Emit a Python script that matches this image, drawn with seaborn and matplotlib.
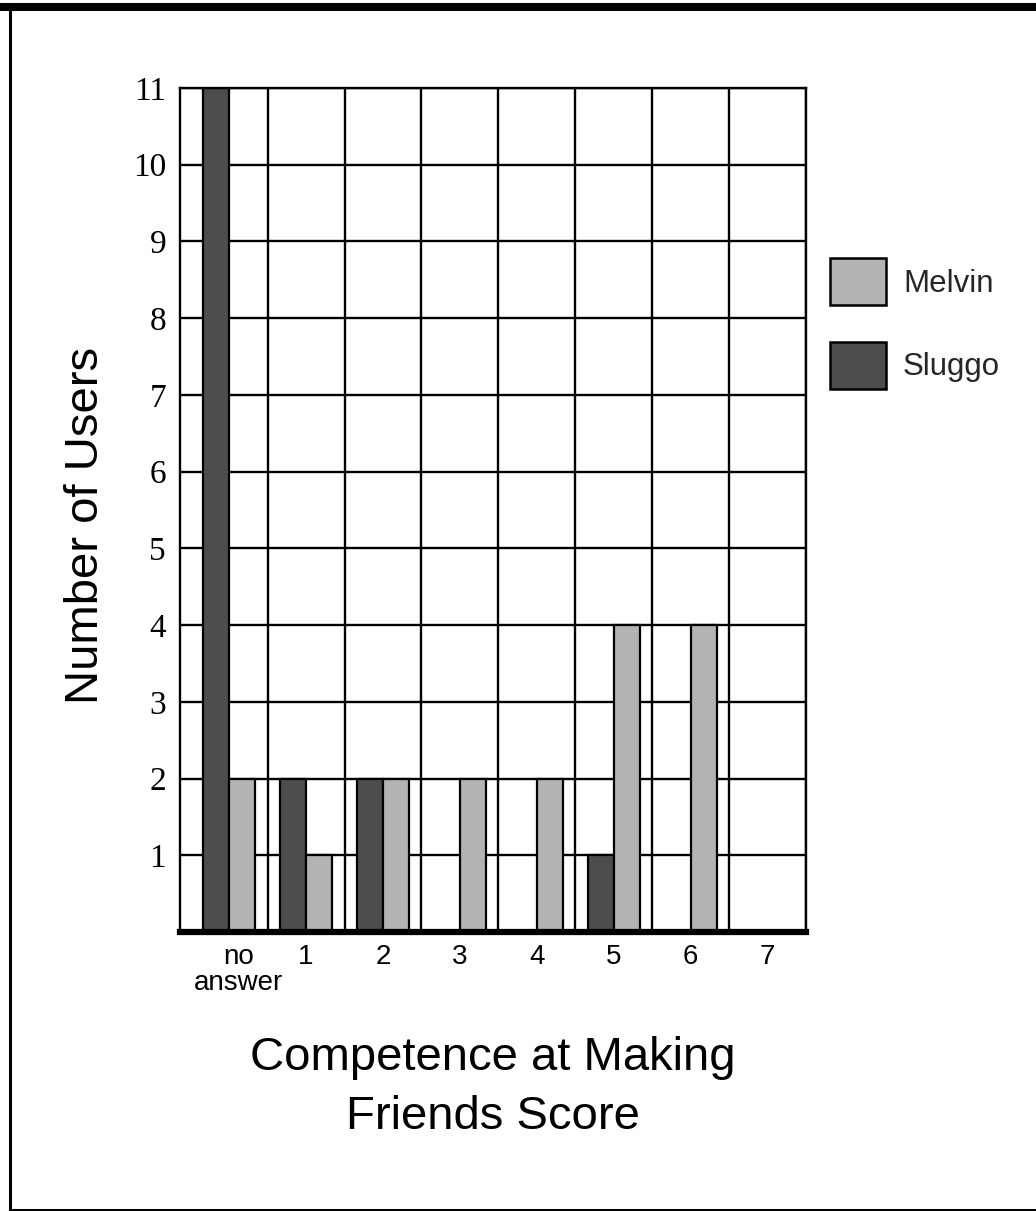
import matplotlib
matplotlib.use('Agg')
import matplotlib.pyplot as plt
import matplotlib.transforms as mtransforms
from matplotlib.patches import Patch
from matplotlib.lines import Line2D
import seaborn as sns
import pandas as pd
import numpy as np

categories = ['no\nanswer', '1', '2', '3', '4', '5', '6', '7']
sluggo = [11, 2, 2, 0, 0, 1, 0, 0]
melvin = [2, 1, 2, 2, 2, 4, 4, 0]
users = ['Sluggo', 'Melvin']
colors = {'Sluggo': '#4d4d4d', 'Melvin': '#b3b3b3'}


def build_dataframe():
    rows = []
    for cat, s, m in zip(categories, sluggo, melvin):
        if s > 0:
            rows.append([cat, 'Sluggo', s])
        if m > 0:
            rows.append([cat, 'Melvin', m])
    return pd.DataFrame(rows, columns=['score', 'user', 'count'])


def plot_chart(df):
    sns.set_theme(style='white')
    plt.rcParams['font.family'] = ['Liberation Sans', 'DejaVu Sans']

    fig = plt.figure(figsize=(10.36, 12.11), dpi=100)
    ax = fig.add_axes([180 / 1036, 1 - 932 / 1211, 626 / 1036, 844 / 1211])

    sns.barplot(data=df, x='score', y='count', hue='user', order=categories,
                hue_order=users, palette=colors, width=0.68, gap=0,
                edgecolor='black', linewidth=1.6, legend=False, ax=ax)

    # first column ("no answer") is a bit wider than the others
    ax.set_xlim(-0.64, 7.5)
    ax.set_ylim(0, 11)
    ax.set_axisbelow(True)

    ax.set_yticks(range(1, 12))
    ax.set_yticklabels([str(v) for v in range(1, 12)],
                       fontfamily='Liberation Serif', fontsize=24)
    ax.set_xticks(range(len(categories)))
    ax.set_xticklabels(categories, fontsize=20, linespacing=1.0)
    ax.set_xticks(np.arange(0.5, 8, 1), minor=True)
    ax.tick_params(axis='both', which='both', length=0, colors='black')
    ax.tick_params(axis='y', pad=10)
    ax.tick_params(axis='x', pad=9)

    first = ax.get_xticklabels()[0]
    first.set_transform(first.get_transform() +
                        mtransforms.ScaledTranslation(9 / 100, 0, fig.dpi_scale_trans))

    ax.grid(True, which='major', axis='y', color='black', linewidth=1.7)
    ax.grid(True, which='minor', axis='x', color='black', linewidth=1.7)
    ax.grid(False, which='major', axis='x')

    for side in ['top', 'right', 'left']:
        ax.spines[side].set_color('black')
        ax.spines[side].set_linewidth(1.7)
    ax.spines['bottom'].set_color('black')
    ax.spines['bottom'].set_linewidth(4.5)
    ax.spines['bottom'].set_capstyle('projecting')

    ax.set_xlabel('Competence at Making\nFriends Score', fontsize=34,
                  linespacing=1.44, color='black')
    ax.xaxis.set_label_coords(0.5, -0.123)
    ax.set_ylabel('Number of Users', fontsize=34, color='black')
    ax.yaxis.set_label_coords(-0.115, 0.482)

    handles = [Patch(facecolor=colors['Melvin'], edgecolor='black', linewidth=1.8),
               Patch(facecolor=colors['Sluggo'], edgecolor='black', linewidth=1.8)]
    fig.legend(handles, ['Melvin', 'Sluggo'], loc='upper left',
               bbox_to_anchor=(830 / 1036, 1 - 258 / 1211), frameon=False,
               fontsize=22.5, handlelength=1.8, handleheight=1.95,
               handletextpad=0.54, labelspacing=1.17, borderpad=0,
               borderaxespad=0)

    # outer frame
    fig.add_artist(Line2D([0, 1], [1 - 6.5 / 1211] * 2, color='black', linewidth=5.8))
    fig.add_artist(Line2D([9.5 / 1036] * 2, [0, 1 - 6.5 / 1211], color='black', linewidth=2.2))
    fig.add_artist(Line2D([9.5 / 1036, 1], [1.5 / 1211] * 2, color='black', linewidth=2.2))

    fig.savefig('out.png', dpi=100, facecolor='white')
    plt.close(fig)


if __name__ == "__main__":
    df = build_dataframe()
    plot_chart(df)
